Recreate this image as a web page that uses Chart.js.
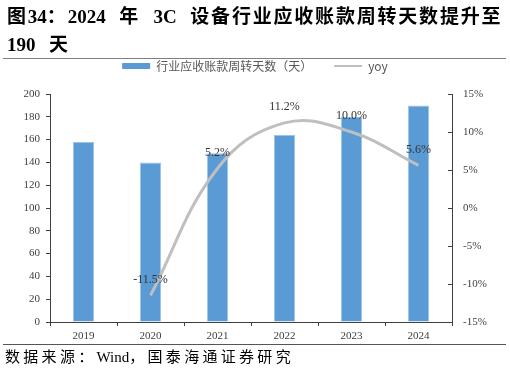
<!DOCTYPE html>
<html>
<head>
<meta charset="utf-8">
<script src="https://cdn.jsdelivr.net/npm/chart.js@4"></script>
<style>
  body { margin: 0; background: #fff; }
  #wrap { position: relative; width: 510px; height: 372px; overflow: hidden; }
  #c { position: absolute; left: 0; top: 0; }
  .title {
    position: absolute; left: 7px; top: 3px; width: 505px;
    font: bold 19px "Liberation Serif", "Noto Sans CJK SC", serif;
    line-height: 28px; letter-spacing: 1.8px; word-spacing: 7px;
    color: #000; white-space: nowrap;
  }
  .title .d, .src .d { letter-spacing: 0; }
  .rule { position: absolute; left: 3px; width: 503px; height: 1px; }
  .src {
    position: absolute; left: 5px; top: 345px;
    font: 15px "Liberation Serif", "Noto Sans CJK SC", serif;
    letter-spacing: 3.3px; color: #000; white-space: nowrap;
  }
</style>
</head>
<body>
<div id="wrap">
  <canvas id="c" width="510" height="372"></canvas>
  <div class="title">图<span class="d">34</span>：<span class="d">2024</span> 年 <span class="d">3C</span> 设备行业应收账款周转天数提升至<br><span class="d">190</span> 天</div>
  <div class="rule" style="top:58px;background:#808080"></div>
  <div class="rule" style="top:344px;background:#555"></div>
  <div class="src">数据来源：<span class="d">Wind</span>，国泰海通证券研究</div>
</div>
<script>
const years = ["2019","2020","2021","2022","2023","2024"];
const turnoverDays = [158, 140, 148, 164, 180, 190];
const yoy = [null, -11.5, 5.2, 11.2, 10.0, 5.6];

const barLabel = "行业应收账款周转天数（天）";
const lineLabel = "yoy";

const serif = "'Liberation Serif', 'Noto Sans CJK SC', serif";

// 折线上方的数值标签
const yoyLabels = {
    id: "yoyLabels",
    afterDatasetsDraw(chart) {
        const ctx = chart.ctx;
        const meta = chart.getDatasetMeta(0);
        ctx.save();
        ctx.font = "12px " + serif;
        ctx.fillStyle = "#333";
        ctx.textAlign = "center";
        ctx.textBaseline = "middle";
        meta.data.forEach((pt, i) => {
            if (yoy[i] === null) return;
            ctx.fillText(yoy[i].toFixed(1) + "%", pt.x, pt.y - 16);
        });
        ctx.restore();
    }
};

// 右轴刻度线朝内
const innerTicks = {
    id: "innerTicks",
    afterDraw(chart) {
        const s = chart.scales.y1;
        const ctx = chart.ctx;
        ctx.save();
        ctx.strokeStyle = "#404040";
        ctx.lineWidth = 1;
        s.ticks.forEach((t, i) => {
            const y = Math.round(s.getPixelForTick(i)) + 0.5;
            ctx.beginPath();
            ctx.moveTo(s.left - 4, y);
            ctx.lineTo(s.left, y);
            ctx.stroke();
        });
        ctx.restore();
    }
};

// 图例高度固定，图表区从 y=94 开始
const legendHeight = {
    id: "legendHeight",
    afterInit(chart) {
        const lg = chart.legend;
        const fit = lg.fit;
        lg.fit = function () {
            fit.call(this);
            this.height = 56;
        };
    }
};

new Chart(document.getElementById("c"), {
    data: {
        labels: years,
        datasets: [
            {
                type: "line",
                label: lineLabel,
                data: yoy,
                yAxisID: "y1",
                borderColor: "#bfbfbf",
                borderWidth: 3,
                pointRadius: 0,
                tension: 0.4,
                fill: false
            },
            {
                type: "bar",
                label: barLabel,
                data: turnoverDays,
                yAxisID: "y",
                backgroundColor: "#5b9bd5",
                borderColor: "#9dc3e6",
                borderWidth: 1,
                categoryPercentage: 1,
                barPercentage: 0.32
            }
        ]
    },
    options: {
        responsive: false,
        animation: false,
        layout: { padding: { top: 38, bottom: 28, left: 0, right: 0 } },
        plugins: {
            tooltip: { enabled: false },
            legend: {
                reverse: true,
                labels: {
                    usePointStyle: true,
                    pointStyleWidth: 28,
                    boxHeight: 6,
                    padding: 22,
                    color: "#595959",
                    font: { size: 12, family: "'Noto Sans CJK SC', sans-serif" },
                    generateLabels(chart) {
                        return chart.data.datasets.map((ds, i) => ({
                            text: ds.label,
                            datasetIndex: i,
                            pointStyle: ds.type === "bar" ? "rect" : "line",
                            fillStyle: ds.type === "bar" ? "#5b9bd5" : "#bfbfbf",
                            strokeStyle: ds.type === "bar" ? "#5b9bd5" : "#bfbfbf",
                            lineWidth: ds.type === "bar" ? 0 : 2,
                            fontColor: "#595959"
                        }));
                    }
                }
            }
        },
        scales: {
            x: {
                grid: { drawOnChartArea: false, tickLength: 4, color: "#404040" },
                border: { color: "#404040" },
                ticks: { color: "#404040", padding: 4, font: { size: 11, family: serif } },
                afterFit(s) { s.height = 22; }
            },
            y: {
                position: "left",
                min: 0,
                max: 200,
                ticks: { stepSize: 20, color: "#404040", padding: 6, font: { size: 11, family: serif } },
                grid: { drawOnChartArea: false, tickLength: 4, color: "#404040" },
                border: { color: "#404040" },
                afterFit(s) { s.width = 50; }
            },
            y1: {
                position: "right",
                min: -15,
                max: 15,
                ticks: {
                    stepSize: 5, color: "#404040", padding: 11,
                    font: { size: 11, family: serif },
                    callback: v => v + "%"
                },
                grid: { drawOnChartArea: false, drawTicks: false, tickLength: 0 },
                border: { color: "#404040" },
                afterFit(s) { s.width = 58; }
            }
        }
    },
    plugins: [yoyLabels, innerTicks, legendHeight]
});
</script>
</body>
</html>
